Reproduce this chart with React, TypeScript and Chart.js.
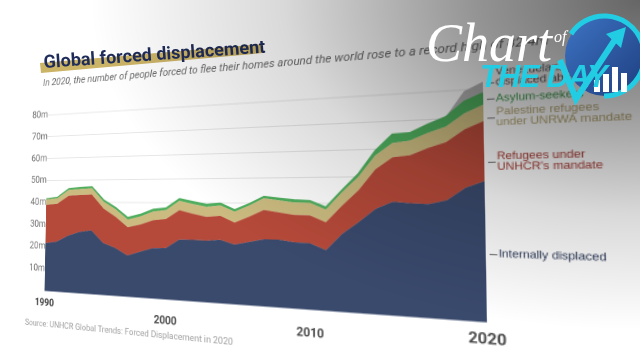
import React, { useEffect, useRef, useState } from "react";
import { Chart, registerables } from "chart.js";

Chart.register(...registerables);

// ---------------- DATA (millions) ----------------
const years = [
  1990, 1991, 1992, 1993, 1994, 1995, 1996, 1997, 1998, 1999,
  2000, 2001, 2002, 2003, 2004, 2005, 2006, 2007, 2008, 2009,
  2010, 2011, 2012, 2013, 2014, 2015, 2016, 2017, 2018, 2019, 2020,
];
const internallyDisplaced = [
  21.5, 22.4, 25.2, 27.0, 27.8, 22.5, 20.5, 17.5, 19.3, 21.0,
  21.2, 24.9, 25.0, 24.8, 25.3, 23.6, 24.8, 26.0, 26.0, 25.2,
  25.0, 22.6, 28.8, 33.3, 38.2, 40.8, 40.3, 40.0, 41.4, 45.7, 48.0,
];
const refugeesUNHCR = [
  17.4, 17.0, 17.8, 16.3, 15.7, 14.9, 13.4, 12.0, 11.5, 11.7,
  12.1, 12.1, 10.6, 9.6, 9.6, 8.7, 9.9, 11.4, 10.5, 10.4,
  10.5, 10.4, 10.5, 11.7, 14.4, 16.1, 17.2, 19.9, 20.4, 20.4, 20.7,
];
const palestineUNRWA = [
  2.4, 2.5, 2.6, 2.7, 2.8, 3.0, 3.2, 3.3, 3.4, 3.6,
  3.7, 3.9, 4.0, 4.1, 4.2, 4.3, 4.4, 4.6, 4.7, 4.8,
  4.8, 4.8, 4.9, 5.0, 5.1, 5.2, 5.3, 5.4, 5.5, 5.6, 5.7,
];
const asylumSeekers = [
  0.3, 0.4, 0.6, 0.7, 0.7, 0.8, 0.8, 0.9, 0.9, 1.0,
  0.9, 0.9, 1.0, 1.0, 0.9, 0.8, 0.7, 0.7, 0.8, 1.0,
  0.8, 0.9, 0.9, 1.2, 1.8, 3.2, 2.8, 3.1, 3.5, 4.2, 4.1,
];
const venezuelansAbroad = [
  0, 0, 0, 0, 0, 0, 0, 0, 0, 0,
  0, 0, 0, 0, 0, 0, 0, 0, 0, 0,
  0, 0, 0, 0, 0, 0, 0, 0, 0, 3.6, 3.9,
];
const yTickValues = [10, 20, 30, 40, 50, 60, 70, 80];
const xTickYears = [1990, 2000, 2010, 2020];
const xTickLowered = [2000, 2010];

const seriesNames = [
  "Internally displaced",
  "Refugees under UNHCR's mandate",
  "Palestine refugees under UNRWA mandate",
  "Asylum-seekers",
  "Venezuelans displaced abroad",
];
const seriesValues = [internallyDisplaced, refugeesUNHCR, palestineUNRWA, asylumSeekers, venezuelansAbroad];
const seriesColors = ["#3a4a6d", "#b64a3a", "#cbbb80", "#4fae5e", "#b4b4b4"];

// right-hand series labels (anchor = value on the 2020 edge where the tick sits)
const SERIES_LABELS = [
  { lines: ["Internally displaced"], at: 23.2, tick: 0, color: "#2b3858" },
  { lines: ["Refugees under", "UNHCR's mandate"], at: 54.6, tick: 0.5, color: "#a63a32" },
  { lines: ["Palestine refugees", "under UNRWA mandate"], at: 69.8, tick: 0.5, color: "#b3a472" },
  { lines: ["Asylum-seekers"], at: 76.4, tick: 0, color: "#3d9b4d" },
  { lines: ["Venezuelans", "displaced abroad"], at: 82.0, tick: 1, color: "#555555" },
];

// ---------------- LAYOUT ----------------
const W = 640;
const H = 360;
type Pt = [number, number];
// screen corners of the tilted plot plane: (1990,0) (2020,0) (2020,80) (1990,80)
const PLANE_TARGET: Pt[] = [[44.5, 291], [487, 322.5], [483, 88.6], [48, 115]];
const SUBTITLE_ANCHOR: Pt = [43, 87];
const SOURCE_ANCHOR: Pt = [25, 325];

function solveHomography(src: Pt[], dst: Pt[]): number[] {
  const A: number[][] = [];
  for (let i = 0; i < 4; i++) {
    const [x, y] = src[i];
    const [X, Y] = dst[i];
    A.push([x, y, 1, 0, 0, 0, -x * X, -y * X, X]);
    A.push([0, 0, 0, x, y, 1, -x * Y, -y * Y, Y]);
  }
  for (let c = 0; c < 8; c++) {
    let p = c;
    for (let r = c + 1; r < 8; r++) if (Math.abs(A[r][c]) > Math.abs(A[p][c])) p = r;
    const tmp = A[c]; A[c] = A[p]; A[p] = tmp;
    for (let r = 0; r < 8; r++) {
      if (r === c) continue;
      const f = A[r][c] / A[c][c];
      for (let k = c; k < 9; k++) A[r][k] -= f * A[c][k];
    }
  }
  return A.map((row, i) => row[8] / row[i]);
}
function applyH(h: number[], p: Pt): Pt {
  const [a, b, c, d, e, f, g, k] = h;
  const w = g * p[0] + k * p[1] + 1;
  return [(a * p[0] + b * p[1] + c) / w, (d * p[0] + e * p[1] + f) / w];
}

const seriesLabelPlugin = {
  id: "seriesLabels",
  afterDatasetsDraw(chart: any) {
    const { ctx, chartArea } = chart;
    const ys = chart.scales.y;
    ctx.save();
    ctx.font = '9.2px "Liberation Sans", Arial, sans-serif';
    ctx.textBaseline = "middle";
    ctx.textAlign = "left";
    SERIES_LABELS.forEach((l) => {
      const y = ys.getPixelForValue(l.at);
      const x0 = chartArea.right + 3;
      ctx.strokeStyle = "#777";
      ctx.lineWidth = 0.9;
      ctx.beginPath();
      ctx.moveTo(x0, y + 0.5);
      ctx.lineTo(x0 + 6, y + 0.5);
      ctx.stroke();
      ctx.fillStyle = l.color;
      l.lines.forEach((t, i) => ctx.fillText(t, x0 + 7, y + (i - l.tick) * 9));
    });
    ctx.restore();
  },
};

export default function App() {
  const canvasRef = useRef<HTMLCanvasElement>(null);
  const [geo, setGeo] = useState<null | { matrix: string; sub: Pt; src: Pt }>(null);

  useEffect(() => {
    const canvas = canvasRef.current;
    if (!canvas) return;
    const datasets = seriesNames.map((name, i) => ({
      label: name,
      data: years.map((yr, j) => ({ x: yr, y: seriesValues[i][j] })),
      backgroundColor: seriesColors[i],
      borderColor: seriesColors[i],
      borderWidth: i === 3 ? 1.2 : 0,
      pointRadius: 0,
      tension: 0,
      fill: i === 0 ? "origin" : "-1",
    }));
    const chart = new Chart(canvas, {
      type: "line",
      data: { datasets },
      plugins: [seriesLabelPlugin],
      options: {
        responsive: false,
        animation: false,
        devicePixelRatio: 2,
        layout: { padding: { top: 100, right: 150, bottom: 10, left: 10 } },
        plugins: { legend: { display: false }, tooltip: { enabled: false } },
        scales: {
          x: {
            type: "linear",
            min: years[0],
            max: years[years.length - 1],
            grid: { display: false },
            border: { display: false },
            afterBuildTicks: (s: any) => {
              s.ticks = xTickYears.map((v) => ({ value: v }));
            },
            ticks: {
              autoSkip: false,
              maxRotation: 0,
              padding: 0,
              color: "#4a4a4a",
              font: (ctx: any) => {
                const v = ctx.tick ? ctx.tick.value : 0;
                return {
                  family: "Roboto",
                  weight: "bold",
                  size: v === 2020 ? 13 : 11.5,
                  lineHeight: xTickLowered.includes(v) ? 0.8 : 1,
                };
              },
              callback: (v: any) => (xTickLowered.includes(v) ? ["", String(v)] : String(v)),
            },
          },
          y: {
            stacked: true,
            min: 0,
            max: 90,
            border: { display: false },
            grid: {
              drawTicks: false,
              lineWidth: 1,
              color: (ctx: any) => (ctx.tick && yTickValues.includes(ctx.tick.value) ? "#e6e6e6" : "rgba(0,0,0,0)"),
            },
            ticks: {
              stepSize: 10,
              padding: 0,
              color: "#707070",
              font: { family: "Roboto", size: 11 },
              callback: (v: any) => (yTickValues.includes(v) ? v + "m" : ""),
            },
          },
        },
      } as any,
    });
    const xs = chart.scales.x;
    const ys = chart.scales.y;
    const x0 = xs.getPixelForValue(years[0]);
    const x1 = xs.getPixelForValue(years[years.length - 1]);
    const y0 = ys.getPixelForValue(0);
    const y80 = ys.getPixelForValue(80);
    const src: Pt[] = [[x0, y0], [x1, y0], [x1, y80], [x0, y80]];
    const h = solveHomography(src, PLANE_TARGET);
    const hi = solveHomography(PLANE_TARGET, src);
    const [a, b, c, d, e, f, g, k] = h;
    const matrix = `matrix3d(${a},${d},0,${g},${b},${e},0,${k},0,0,1,0,${c},${f},0,1)`;
    setGeo({
      matrix,
      sub: applyH(hi, SUBTITLE_ANCHOR),
      src: applyH(hi, SOURCE_ANCHOR),
    });
    return () => chart.destroy();
  }, []);

  const subSize = 11.5;
  const srcSize = 9.5;

  return (
    <div style={{ position: "fixed", left: 0, top: 0, width: W, height: H, overflow: "hidden", background: "#fff" }}>
      <div
        style={{
          position: "absolute", left: 0, top: 0, width: W, height: H,
          transformOrigin: "0 0", transform: geo ? geo.matrix : "none",
        }}
      >
        <canvas ref={canvasRef} width={W} height={H} style={{ position: "absolute", left: 0, top: 0, width: W, height: H }} />
        {geo && (
          <>
            <div
              style={{
                position: "absolute", left: geo.sub[0], top: geo.sub[1] - 0.85 * subSize,
                whiteSpace: "nowrap", lineHeight: 1, fontFamily: "Roboto, sans-serif", fontStyle: "italic",
                fontSize: subSize, color: "#6a6a6a",
              }}
            >
              In 2020, the number of people forced to flee their homes around the world rose to a record high of 82.4m
            </div>
            <div
              style={{
                position: "absolute", left: geo.src[0], top: geo.src[1] - 0.85 * srcSize,
                whiteSpace: "nowrap", lineHeight: 1, fontFamily: "Roboto, sans-serif",
                fontSize: srcSize, color: "#a0a0a0",
              }}
            >
              Source: UNHCR Global Trends: Forced Displacement in 2020
            </div>
          </>
        )}
      </div>
      {/* title with brush highlight */}
      <svg width={W} height={H} style={{ position: "absolute", left: 0, top: 0, pointerEvents: "none" }}>
        <polygon points="40,63 262,44 263,53 41,73" fill="#ccb466" />
        <text
          x={44} y={68} transform="rotate(-4 44 68)"
          fontFamily="Roboto, sans-serif" fontWeight={700} fontSize={18} fill="#1f2c5a"
        >
          Global forced displacement
        </text>
      </svg>
      <div
        style={{
          position: "absolute", left: 0, top: 0, width: W, height: H, pointerEvents: "none",
          background:
            "radial-gradient(ellipse 550px 330px at 640px 0px, rgba(0,0,0,0.6) 0%, rgba(0,0,0,0.42) 30%, rgba(0,0,0,0.15) 65%, rgba(0,0,0,0) 100%)",
        }}
      />
      <svg width={W} height={H} style={{ position: "absolute", left: 0, top: 0, pointerEvents: "none" }}>
        <defs>
          <linearGradient id="logoFill" x1="0" y1="0" x2="1" y2="1">
            <stop offset="0" stopColor="#3d74c4" />
            <stop offset="1" stopColor="#1e3d7e" />
          </linearGradient>
        </defs>
        <circle cx={605} cy={56} r={40} fill="url(#logoFill)" />
        <path d="M 571 34 A 40 40 0 1 1 604 96" stroke="#22cde3" strokeWidth={5} fill="none" />
        <rect x={594} y={80} width={6} height={12} fill="#ffffff" />
        <rect x={603} y={74} width={6} height={18} fill="#ffffff" />
        <rect x={612} y={67} width={6} height={25} fill="#ffffff" />
        <rect x={621} y={73} width={6} height={19} fill="#ffffff" />
        <text x={426} y={61} fontFamily="Liberation Serif, serif" fontStyle="italic" fontSize={54} fill="#ffffff">Chart</text>
        <text x={554} y={42} fontFamily="Liberation Serif, serif" fontStyle="italic" fontSize={16} fill="#ffffff">of</text>
        <text x={480} y={87} fontFamily="Liberation Sans, sans-serif" fontWeight="bold" fontStyle="italic" fontSize={31} letterSpacing={-1} fill="#22cde3">THE DAY</text>
        <polyline points="560,60 576,99 616,38" stroke="#22cde3" strokeWidth={6} fill="none" strokeLinejoin="miter" />
        <polygon points="626,27 606,34 621,48" fill="#22cde3" />
      </svg>
    </div>
  );
}
